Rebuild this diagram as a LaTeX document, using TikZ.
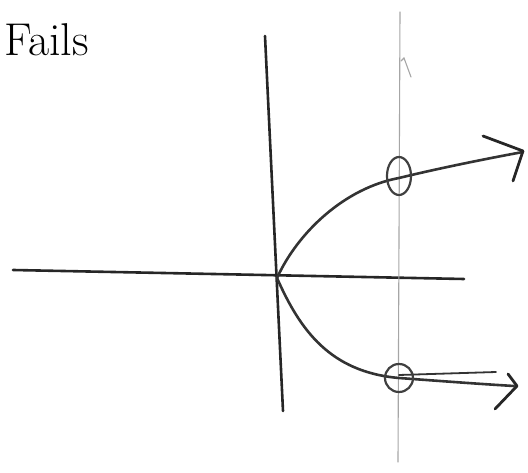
\documentclass[tikz,border=0pt]{standalone}
\usetikzlibrary{calc}

\begin{document}
\begin{tikzpicture}[
    x=1pt, y=-1pt,
    axis/.style={line width=2.6pt, black!85, line cap=round},
    branch/.style={line width=2.6pt, black!80, line cap=round},
    testline/.style={line width=1.1pt, gray!70, line cap=round},
    ring/.style={line width=2.2pt, black!75},
    tip/.style={line width=2.8pt, black!85, line cap=round, line join=round}
]
\useasboundingbox (0,0) rectangle (528,473);

% ============================================================
% ACHSEN
% ============================================================
\coordinate (ytop) at (265,36);
\coordinate (ybot) at (283,411);
\coordinate (xleft) at (13,270);
\coordinate (xright) at (464,279);
\coordinate (vertex) at (277,278);

\draw[axis] (ytop) -- (ybot);
\draw[axis] (xleft) -- (xright);

% ============================================================
% SENKRECHTE TESTLINIE
% ============================================================
\coordinate (vtop) at (400,12);
\coordinate (vbot) at (398,462);
\draw[testline] (vtop) -- (vbot);
\draw[testline] (401,61) -- (404,58) -- (411,77);

% ============================================================
% PARABEL (nach rechts offen)
% ============================================================
\coordinate (upend) at (523,152);
\coordinate (lowend) at (514,386);

\draw[branch] (vertex) .. controls (298,232) and (345,188) .. (399,178)
    .. controls (440,168) and (490,158) .. (upend);
\draw[branch] (vertex) .. controls (300,330) and (330,372) .. (399,378)
    .. controls (440,381) and (480,384) .. (lowend);
\draw[branch, line width=1.8pt] (399,375) -- (496,372);

% Pfeilspitzen
\draw[tip] (483,136) -- (523,151) -- (513,181);
\draw[tip] (508,374) -- (517,386) -- (495,409);

% ============================================================
% SCHNITTPUNKTE
% ============================================================
\draw[ring] (399,176) ellipse [x radius=12, y radius=19];
\draw[ring] (399,378) circle [radius=14];

% ============================================================
% BESCHRIFTUNG
% ============================================================
\node[anchor=west, inner sep=0pt, font=\fontsize{46}{46}\selectfont] (title) at (4,40) {Fails};

\end{tikzpicture}
\end{document}
